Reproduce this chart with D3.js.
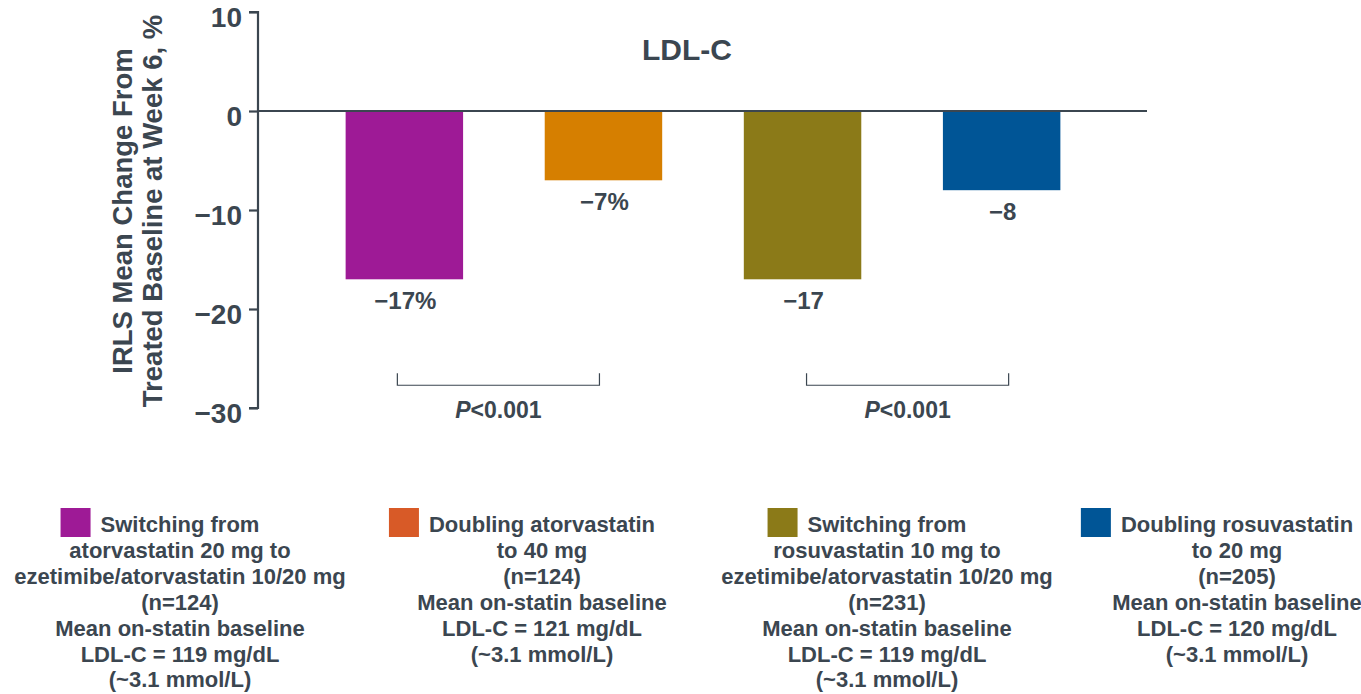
<!DOCTYPE html>
<html><head><meta charset="utf-8">
<script src="https://cdn.jsdelivr.net/npm/d3@7"></script>
<style>body{margin:0;background:#fff}svg{display:block}text{font-family:"Liberation Sans",Arial,sans-serif;font-weight:bold;fill:#3b4650}</style>
</head><body><svg id="c" width="1361" height="694"></svg>
<script>
const categories = ["atorSwitch","atorDouble","rosuSwitch","rosuDouble"];
const values = [-17, -7, -17, -8];
const valueLabels = ["\u221217%", "\u22127%", "\u221217", "\u22128"];
const barColors = ["#9e1a96", "#d67f00", "#8b7a18", "#005596"];
const legendColors = ["#9e1a96", "#d85a27", "#8b7a18", "#005596"];
const yTicks = [10, 0, -10, -20, -30];
const legendTexts = [
  ["Switching from", "atorvastatin 20 mg to", "ezetimibe/atorvastatin 10/20 mg", "(n=124)", "Mean on-statin baseline", "LDL-C = 119 mg/dL", "(~3.1 mmol/L)"],
  ["Doubling atorvastatin", "to 40 mg", "(n=124)", "Mean on-statin baseline", "LDL-C = 121 mg/dL", "(~3.1  mmol/L)"],
  ["Switching from", "rosuvastatin 10 mg to", "ezetimibe/atorvastatin 10/20 mg", "(n=231)", "Mean on-statin baseline", "LDL-C = 119 mg/dL", "(~3.1 mmol/L)"],
  ["Doubling rosuvastatin", "to 20 mg", "(n=205)", "Mean on-statin baseline", "LDL-C = 120 mg/dL", "(~3.1 mmol/L)"]
];
const comparisons = [[0,1],[2,3]];
const pLabel = "<0.001";
const title = "LDL-C";
const yTitle = ["IRLS Mean Change From", "Treated Baseline at Week 6, %"];

const svg = d3.select("#c");
const ink = "#3b4650";
const x = d3.scaleBand().domain(categories).range([264, 1142]).paddingInner(0.41).paddingOuter(0.41);
const y = d3.scaleLinear().domain([-30, 10]).range([408, 12]);

// y axis
const ax = svg.append("g").attr("transform", "translate(258,0)")
  .call(d3.axisLeft(y).tickValues(yTicks).tickSize(9).tickPadding(7)
    .tickFormat(d => d < 0 ? "\u2212" + Math.abs(d) : String(d)));
ax.select(".domain").attr("stroke", ink).attr("stroke-width", 2.2).attr("d", `M-9,${y(10)}H0V${y(-30)}H-9`);
ax.selectAll(".tick line").attr("stroke", ink).attr("stroke-width", 2.2);
ax.selectAll(".tick text").attr("font-size", 28).attr("fill", ink).attr("dy", "0.53em")
  .attr("font-family", "Liberation Sans, Arial, sans-serif").attr("font-weight", "bold");

// bars
svg.append("g").selectAll("rect").data(categories).join("rect")
  .attr("x", d => x(d)).attr("width", x.bandwidth())
  .attr("y", y(0)).attr("height", (d, i) => y(values[i]) - y(0))
  .attr("fill", (d, i) => barColors[i]);

// zero line
svg.append("line").attr("x1", 258).attr("x2", 1147).attr("y1", y(0)).attr("y2", y(0))
  .attr("stroke", ink).attr("stroke-width", 2);

// value labels
svg.append("g").selectAll("text").data(categories).join("text")
  .attr("x", d => x(d) + x.bandwidth() / 2 + 1)
  .attr("y", (d, i) => y(values[i]) + 30)
  .attr("text-anchor", "middle").attr("font-size", 24)
  .text((d, i) => valueLabels[i]);

// title
svg.append("text").attr("x", 687).attr("y", 60).attr("text-anchor", "middle").attr("font-size", 30).text(title);

// y title
const yt = svg.append("text").attr("transform", `translate(0,211) rotate(-90)`).attr("text-anchor", "middle").attr("font-size", 27.5);
yt.append("tspan").attr("x", 0).attr("y", 132).text(yTitle[0]);
yt.append("tspan").attr("x", 0).attr("y", 162).text(yTitle[1]);

// comparison brackets
const bracketNudge = [[-7, -4], [4, 7]];
comparisons.forEach(([a, b], k) => {
  const x1 = x(categories[a]) + x.bandwidth() / 2 + bracketNudge[k][0];
  const x2 = x(categories[b]) + x.bandwidth() / 2 + bracketNudge[k][1];
  const yb = y(-27.7), yt2 = y(-26.5);
  svg.append("path").attr("d", `M${x1},${yt2}V${yb}H${x2}V${yt2}`).attr("fill", "none").attr("stroke", ink).attr("stroke-width", 1.2);
  const t = svg.append("text").attr("x", (x1 + x2) / 2).attr("y", 418).attr("text-anchor", "middle").attr("font-size", 23);
  t.append("tspan").attr("font-style", "italic").text("P");
  t.append("tspan").text(pLabel);
});

// legend
const centers = [180, 542, 887, 1237];
legendTexts.forEach((lines, i) => {
  const g = svg.append("g");
  let first;
  lines.forEach((ln, j) => {
    const t = g.append("text").attr("x", centers[i]).attr("y", 532 + j * 25.9).attr("text-anchor", "middle").attr("font-size", 22).text(ln);
    if (j === 0) first = t;
  });
  const w = first.node().getComputedTextLength();
  g.append("rect").attr("x", centers[i] - w / 2 - 40).attr("y", 508).attr("width", 30).attr("height", 29).attr("fill", legendColors[i]);
});
</script></body></html>
